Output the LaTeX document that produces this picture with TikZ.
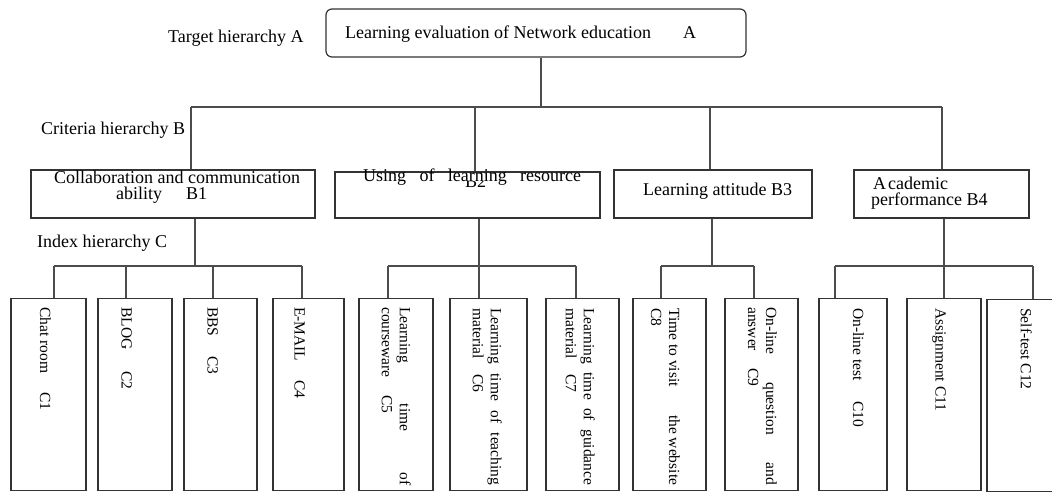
\documentclass[tikz,border=0pt]{standalone}
\usepackage{fontspec}
\setmainfont{Liberation Serif}
\begin{document}
\begin{tikzpicture}[x=1pt,y=-1pt,
  box/.style={draw=black!80,line width=1.2pt,rectangle,inner sep=0pt},
  cbox/.style={box,minimum height=192pt,anchor=north},
  conn/.style={draw=black!70,line width=1.3pt},
  htext/.style={anchor=base west,inner sep=0pt,font=\fontsize{18}{16}\selectfont},
  ctext/.style={rotate=-90,anchor=north west,inner sep=0pt,align=left,font=\fontsize{15.5}{18}\selectfont}]
\useasboundingbox (0,0) rectangle (1052,492);
\clip (0,0) rectangle (1052,492);
% ---- boxes
\node[box,rounded corners=6pt,minimum width=420pt,minimum height=48pt] (A) at (536,33) {};
\node[box,minimum width=284pt,minimum height=48pt] (B1) at (173,194) {};
\node[box,minimum width=265pt,minimum height=46pt] (B2) at (467.5,195) {};
\node[box,minimum width=198pt,minimum height=48pt] (B3) at (713,194) {};
\node[box,minimum width=175pt,minimum height=48pt] (B4) at (941.5,194) {};
\node[cbox,minimum width=75pt] (C1) at (48.5,298) {};
\node[cbox,minimum width=74pt] (C2) at (135,298) {};
\node[cbox,minimum width=73pt] (C3) at (220.5,298) {};
\node[cbox,minimum width=71pt] (C4) at (308.5,298) {};
\node[cbox,minimum width=74pt] (C5) at (396,298) {};
\node[cbox,minimum width=77pt] (C6) at (488.5,298) {};
\node[cbox,minimum width=73pt] (C7) at (582.5,298) {};
\node[cbox,minimum width=73pt] (C8) at (669.5,298) {};
\node[cbox,minimum width=73pt] (C9) at (761.5,298) {};
\node[cbox,minimum width=68pt] (C10) at (853,298) {};
\node[cbox,minimum width=74pt] (C11) at (944,298) {};
\node[cbox,minimum width=84pt,minimum height=192pt] (C12) at (1029,299) {};
% ---- texts
\node[htext] (lA) at (168,43) {Target hierarchy A};
\node[htext] (tA) at (345,39) {\makebox[351pt][l]{Learning evaluation of Network education\hfill A}};
\node[htext] (lB) at (41,135) {Criteria hierarchy B};
\node[htext] (lC) at (37,247) {Index hierarchy C};
\node[htext] (tB1a) at (54,183) {Collaboration and communication};
\node[htext] (tB1b) at (116,199) {\makebox[91pt][l]{ability\hfill B1}};
\node[htext] (tB2a) at (363,181) {\makebox[218pt][s]{Using of learning resource}};
\begin{scope}
  \clip (400,181.5) rectangle (540,200);
  \node[htext] (tB2b) at (465,187) {B2};
\end{scope}
\node[htext] (tB3) at (643,195) {Learning attitude B3};
\node[htext] (tB4a) at (873,189) {A\kern2pt cademic};
\node[htext] (tB4b) at (871,205) {performance B4};
\node[ctext] (t1) at (51,307) {\makebox[103pt][l]{Chat room\hfill C1}};
\node[ctext] (t2) at (132,307) {\makebox[82pt][l]{BLOG\hfill C2}};
\node[ctext] (t3) at (218,307) {\makebox[67pt][l]{BBS\hfill C3}};
\node[ctext] (t4) at (305,307) {\makebox[91pt][l]{E-MAIL\hfill C4}};
\node[ctext] (t5) at (411,307) {\makebox[178pt][s]{Learning time of}\\\makebox[106pt][l]{courseware\hfill C5}};
\node[ctext] (t6) at (502,308) {\makebox[177pt][s]{Learning time of teaching}\\\makebox[84pt][l]{material\hfill C6}};
\node[ctext] (t7) at (595,308) {\makebox[177pt][s]{Learning time of guidance}\\\makebox[84pt][l]{material\hfill C7}};
\node[ctext] (t8) at (680,308) {\makebox[177pt][l]{Time to visit\hfill the website}\\C8};
\node[ctext] (t9) at (777,307) {\makebox[178pt][s]{On-line question and}\\\makebox[79pt][l]{answer\hfill C9}};
\node[ctext] (t10) at (864,308) {\makebox[119pt][l]{On-line test\hfill C10}};
\node[ctext] (t11) at (946,308) {Assignment C11};
\node[ctext] (t12) at (1032,308) {Self-test C12};
% ---- connectors, level A-B
\coordinate (ta) at (541,107);
\coordinate (tb1) at (191,107);
\coordinate (tb2) at (475,107);
\coordinate (tb3) at (710,107);
\coordinate (tb4) at (942,107);
\draw[conn] (ta |- A.south) -- (ta);
\draw[conn] (tb1) -- (tb4);
\foreach \i in {1,2,3,4} {\draw[conn] (tb\i) -- (tb\i |- B\i.north);}
% ---- group 1
\coordinate (g1) at (195,266);
\coordinate (d1) at (54,266);
\coordinate (d2) at (126,266);
\coordinate (d3) at (213,266);
\coordinate (d4) at (302,266);
\draw[conn] (g1 |- B1.south) -- (g1);
\draw[conn] (d1) -- (d4);
\foreach \i in {1,2,3,4} {\draw[conn] (d\i) -- (d\i |- C\i.north);}
% ---- group 2
\coordinate (g2) at (479,266);
\coordinate (d5) at (388,266);
\coordinate (d7) at (576,266);
\draw[conn] (g2 |- B2.south) -- (g2 |- C6.north);
\draw[conn] (d5) -- (d7);
\draw[conn] (d5) -- (d5 |- C5.north);
\draw[conn] (d7) -- (d7 |- C7.north);
% ---- group 3
\coordinate (g3) at (712,266);
\coordinate (d8) at (661,266);
\coordinate (d9) at (754,266);
\draw[conn] (g3 |- B3.south) -- (g3);
\draw[conn] (d8) -- (d9);
\draw[conn] (d8) -- (d8 |- C8.north);
\draw[conn] (d9) -- (d9 |- C9.north);
% ---- group 4
\coordinate (g4) at (944,266);
\coordinate (d10) at (835,266);
\coordinate (d12) at (1033,266);
\draw[conn] (g4 |- B4.south) -- (g4 |- C11.north);
\draw[conn] (d10) -- (d12);
\draw[conn] (d10) -- (d10 |- C10.north);
\draw[conn] (d12) -- (d12 |- C12.north);
\end{tikzpicture}
\end{document}
